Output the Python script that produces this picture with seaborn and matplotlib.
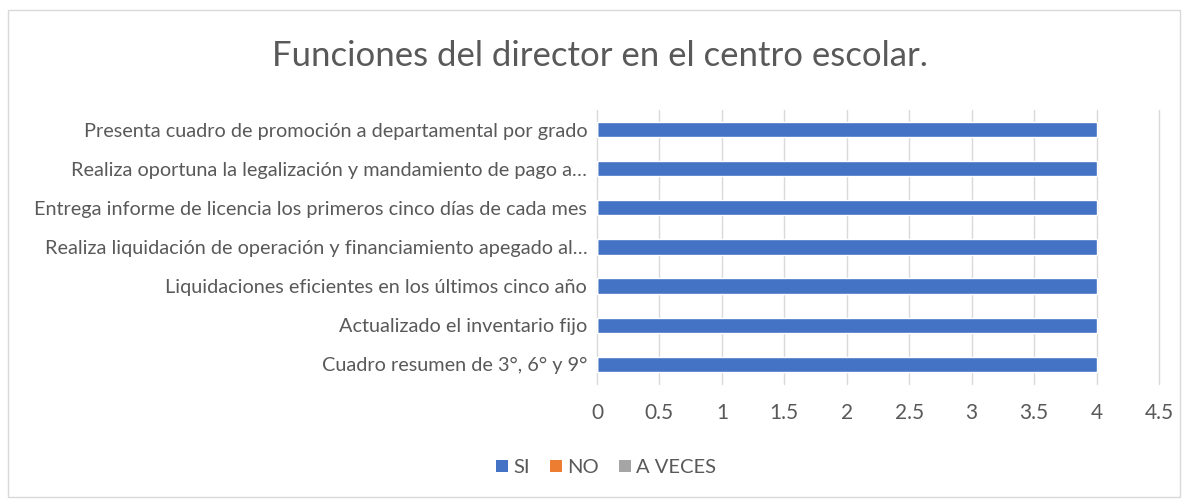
import pandas as pd
import matplotlib.pyplot as plt
import seaborn as sns
from matplotlib.patches import Rectangle, Patch

categories = [
    "Presenta cuadro de promoción a departamental por grado",
    "Realiza oportuna la legalización y mandamiento de pago a…",
    "Entrega informe de licencia los primeros cinco días de cada mes",
    "Realiza liquidación de operación y financiamiento apegado al…",
    "Liquidaciones eficientes en los últimos cinco año",
    "Actualizado el inventario fijo",
    "Cuadro resumen de 3°, 6° y 9°",
]
si = [4, 4, 4, 4, 4, 4, 4]
no = [0, 0, 0, 0, 0, 0, 0]
a_veces = [0, 0, 0, 0, 0, 0, 0]
series = ["SI", "NO", "A VECES"]
colors = ["#4472C4", "#ED7D31", "#A5A5A5"]

df = pd.DataFrame({"categoria": categories, "SI": si, "NO": no, "A VECES": a_veces})
df = df.melt(id_vars="categoria", var_name="serie", value_name="valor")

sns.set_style("white")
plt.rcParams["font.family"] = ["Lato", "DejaVu Sans"]
text_color = "#595959"

fig = plt.figure(figsize=(11.88, 4.99), dpi=100)
ax = fig.add_axes([0.5025, 0.2305, 0.4731, 0.5491])

sns.barplot(data=df, x="valor", y="categoria", hue="serie", order=categories,
            hue_order=series, palette=colors, dodge=False, width=0.39,
            orient="h", ax=ax, legend=False, saturation=1)

ax.set_xlim(0, 4.5)
ax.set_xticks([0, 0.5, 1, 1.5, 2, 2.5, 3, 3.5, 4, 4.5])
ax.set_xticklabels(["0", "0.5", "1", "1.5", "2", "2.5", "3", "3.5", "4", "4.5"])
ax.xaxis.grid(True, color="#D9D9D9", linewidth=1)
for gl in ax.get_xgridlines():
    gl.set_clip_on(False)
ax.set_axisbelow(True)
for s in ax.spines.values():
    s.set_visible(False)
ax.set_xlabel("")
ax.set_ylabel("")
ax.tick_params(axis="x", colors=text_color, labelsize=15, length=0, pad=14)
ax.tick_params(axis="y", colors=text_color, labelsize=14.3, length=0, pad=7)

fig.text(0.505, 0.887, "Funciones del director en el centro escolar.",
         ha="center", va="center", fontsize=25, color=text_color)

handles = [Patch(facecolor=c, edgecolor="none") for c in colors]
fig.legend(handles, series, loc="center", bbox_to_anchor=(0.51, 0.063), ncol=3,
           frameon=False, fontsize=14.5, labelcolor=text_color,
           handlelength=0.6, handleheight=0.6, handletextpad=0.25, columnspacing=1.0)

fig.patches.append(Rectangle((0.007, 0.005), 0.986, 0.975, transform=fig.transFigure,
                             fill=False, edgecolor="#D9D9D9", linewidth=1))

plt.savefig("out.png", dpi=100)
